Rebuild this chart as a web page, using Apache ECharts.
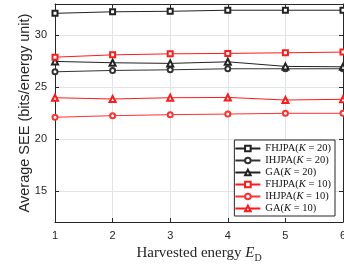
<!DOCTYPE html>
<html>
	<head>
		<meta charset="utf-8">
		<title>Average SEE vs harvested energy</title>
		<script src="https://cdn.jsdelivr.net/npm/echarts@6/dist/echarts.min.js"></script>
		<style>
			body { margin: 0; background: #fff; }
		</style>
	</head>
	<body>
		<div id="main" style="width: 344px;height:270px;"></div>
		<script type="text/javascript">
			// harvested energy E_D
			var energy = [1, 2, 3, 4, 5, 6];
			var xTicks = ['1', '2', '3', '4', '5', '6'];
			var yTicks = [15, 20, 25, 30];

			// average SEE
			var fhjpa20 = [32.1, 32.25, 32.3, 32.4, 32.4, 32.4];
			var ihjpa20 = [26.47, 26.6, 26.66, 26.76, 26.76, 26.76];
			var ga20 = [27.47, 27.34, 27.28, 27.43, 26.99, 26.95];
			var fhjpa10 = [27.88, 28.1, 28.2, 28.24, 28.3, 28.37];
			var ihjpa10 = [22.09, 22.24, 22.34, 22.4, 22.47, 22.47];
			var ga10 = [23.97, 23.85, 23.97, 24.0, 23.75, 23.82];

			var seriesNames = ['FHJPA(K = 20)', 'IHJPA(K = 20)', 'GA(K = 20)', 'FHJPA(K = 10)', 'IHJPA(K = 10)', 'GA(K = 10)'];

			function pairs(ys) {
				return ys.map(function(y, i) { return [energy[i], y]; });
			}

			function mk(name, ys, color, symbol, size) {
				return {
					name: name,
					type: 'line',
					data: pairs(ys),
					symbol: symbol,
					symbolSize: size,
					showAllSymbol: true,
					clip: false,
					lineStyle: { color: color, width: 1 },
					itemStyle: { color: color, borderWidth: 0.9 },
					emphasis: { disabled: true },
					animation: false
				};
			}

			var axisColor = '#262626';
			var tickFont = 'Liberation Sans, Arial, sans-serif';
			var serif = 'Liberation Serif, Times New Roman, serif';

			var myChart = echarts.init(document.getElementById('main'));
			var option = {
				backgroundColor: '#fff',
				animation: false,
				grid: { left: 55, right: 1, top: 4, bottom: 48, containLabel: false, outerBoundsMode: 'none' },
				legend: {
					data: seriesNames,
					orient: 'vertical',
					right: 9,
					top: 140,
					itemWidth: 25,
					itemHeight: 7,
					itemGap: 1,
					padding: [3, 4, 2, 0],
					backgroundColor: '#fff',
					borderColor: axisColor,
					borderWidth: 1,
					formatter: function(name) {
						var m = name.match(/^(\w+)\(K = (\d+)\)$/);
						return m[1] + '({k|K} = ' + m[2] + ')';
					},
					textStyle: {
						fontFamily: serif,
						fontSize: 10.5,
						lineHeight: 9,
						color: '#111',
						rich: {
							k: { fontFamily: serif, fontStyle: 'italic', fontSize: 10.5, lineHeight: 9, color: '#111' }
						}
					}
				},
				xAxis: [{
					type: 'value',
					min: 1,
					max: 6,
					interval: 1,
					name: '{t|Harvested energy }{e|E}{d|D}',
					nameLocation: 'middle',
					nameGap: 22,
					nameMoveOverlap: false,
					nameTextStyle: {
						rich: {
							t: { fontFamily: serif, fontSize: 15, color: '#262626' },
							e: { fontFamily: serif, fontSize: 15, fontStyle: 'italic', color: '#262626' },
							d: { fontFamily: serif, fontSize: 10, color: '#262626', padding: [9, 0, 0, 0] }
						}
					},
					axisLine: { show: true, lineStyle: { color: axisColor, width: 1 } },
					axisTick: { show: true, inside: true, length: 4, lineStyle: { color: axisColor } },
					axisLabel: {
						margin: 8,
						fontFamily: tickFont,
						fontSize: 11,
						color: '#262626',
						alignMaxLabel: 'center',
						formatter: function(v) { return xTicks[energy.indexOf(v)]; }
					},
					splitLine: { show: true, lineStyle: { color: '#e3e3e3', width: 1 } }
				}, {
					type: 'value',
					position: 'top',
					min: 1,
					max: 6,
					interval: 1,
					axisLine: { show: true, lineStyle: { color: axisColor, width: 1 } },
					axisTick: { show: true, inside: true, length: 4, lineStyle: { color: axisColor } },
					axisLabel: { show: false },
					splitLine: { show: false }
				}],
				yAxis: [{
					type: 'value',
					min: 12,
					max: 33,
					splitNumber: 5,
					name: 'Average SEE (bits/energy unit)',
					nameLocation: 'middle',
					nameGap: 23,
					nameMoveOverlap: false,
					nameTextStyle: { fontFamily: tickFont, fontSize: 14.5, color: '#262626' },
					axisLine: { show: true, lineStyle: { color: axisColor, width: 1 } },
					axisTick: { show: true, inside: true, length: 4, lineStyle: { color: axisColor }, customValues: yTicks },
					axisLabel: {
						margin: 8,
						fontFamily: tickFont,
						fontSize: 11,
						color: '#262626',
						customValues: yTicks
					},
					splitLine: { show: true, lineStyle: { color: '#e3e3e3', width: 1 } }
				}, {
					type: 'value',
					position: 'right',
					min: 12,
					max: 33,
					splitNumber: 5,
					axisLine: { show: true, lineStyle: { color: axisColor, width: 1 } },
					axisTick: { show: true, inside: true, length: 4, lineStyle: { color: axisColor }, customValues: yTicks },
					axisLabel: { show: false },
					splitLine: { show: false }
				}],
				series: [
					mk(seriesNames[0], fhjpa20, '#222', 'emptyRect', 5),
					mk(seriesNames[1], ihjpa20, '#333', 'emptyCircle', 5),
					mk(seriesNames[2], ga20, '#222', 'emptyTriangle', 6),
					mk(seriesNames[3], fhjpa10, '#ff1a1a', 'emptyRect', 5),
					mk(seriesNames[4], ihjpa10, '#ff3030', 'emptyCircle', 5),
					mk(seriesNames[5], ga10, '#ff1a1a', 'emptyTriangle', 6)
				]
			};
			myChart.setOption(option);
		</script>
	</body>
</html>
